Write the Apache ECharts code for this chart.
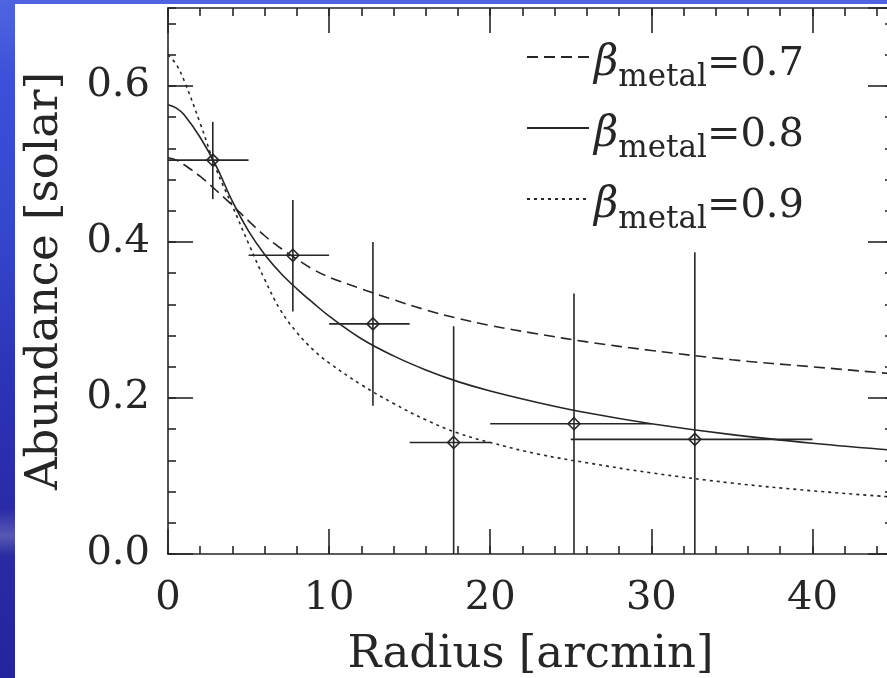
<!DOCTYPE html>
<html>
<head>
<meta charset="utf-8">
<script src="https://cdn.jsdelivr.net/npm/echarts@6.0.0/dist/echarts.min.js"></script>
<style>
html, body { margin: 0; padding: 0; width: 887px; height: 678px; overflow: hidden; }
body {
  position: relative;
  background: linear-gradient(to bottom, #5064e2 0%, #3c50d8 12%, #3446cc 35%, #2c34b8 55%, #2a2aa8 75%, #5858b4 79%, #2a2aa2 82%, #24249c 100%);
}
#panel { position: absolute; left: 15px; top: 4px; width: 900px; height: 700px; background: #ffffff; }
#chart { position: absolute; left: 0; top: 0; width: 900px; height: 678px; }
</style>
</head>
<body>
<div id="panel"></div>
<div id="chart"></div>
<script>
// ---- data ----
const radiusGrid = [0, 0.5, 1, 2, 3, 4, 5, 6, 7, 8, 9, 10, 12, 14, 16, 18, 20, 23, 26, 30, 35, 40, 45];
const beta07 = [0.508, 0.505, 0.499, 0.484, 0.466, 0.447, 0.427, 0.408, 0.392, 0.378, 0.365, 0.355, 0.340, 0.326, 0.313, 0.302, 0.293, 0.282, 0.272, 0.261, 0.249, 0.240, 0.231];
const beta08 = [0.576, 0.572, 0.563, 0.534, 0.497, 0.452, 0.414, 0.384, 0.360, 0.340, 0.322, 0.305, 0.276, 0.254, 0.236, 0.221, 0.209, 0.194, 0.181, 0.167, 0.153, 0.142, 0.133];
const beta09 = [0.640, 0.628, 0.607, 0.552, 0.493, 0.446, 0.398, 0.352, 0.312, 0.284, 0.262, 0.245, 0.217, 0.193, 0.172, 0.155, 0.143, 0.128, 0.117, 0.104, 0.091, 0.081, 0.073];
const betaLabels = ['0.7', '0.8', '0.9'];

const pointRadius    = [2.78, 7.75, 12.72, 17.73, 25.2, 32.7];
const pointAbundance = [0.505, 0.383, 0.295, 0.143, 0.167, 0.147];
const radiusLow      = [0, 5, 10, 15, 20, 25];
const radiusHigh     = [5, 10, 15, 20, 30, 40];
const abundanceLow   = [0.455, 0.311, 0.190, 0, 0, 0];
const abundanceHigh  = [0.554, 0.454, 0.400, 0.292, 0.334, 0.387];

const radiusTickStep = 10, radiusMinorStep = 2, radiusMax = 45;
const abundanceTickStep = 0.2, abundanceMinorStep = 0.04, abundanceMax = 0.7;

// ---- styles ----
const ink = '#262626';
const serif = "'DejaVu Serif', serif";
const lw = 1.6;

function axis(dim, pos, step, length, primary) {
  const isX = dim === 'x';
  return {
    type: 'value',
    position: pos,
    min: 0,
    max: isX ? radiusMax : abundanceMax,
    interval: step,
    splitLine: { show: false },
    axisLine: { show: primary, onZero: false, lineStyle: { color: ink, width: lw } },
    axisTick: { show: true, inside: true, length: length, lineStyle: { color: ink, width: lw } },
    axisLabel: { show: false }
  };
}

const xMain = axis('x', 'bottom', radiusTickStep, 25, true);
xMain.axisLabel = { show: true, margin: 25, showMaxLabel: false, fontFamily: serif, fontSize: 40, color: ink };
xMain.name = 'Radius [arcmin]';
xMain.nameLocation = 'middle';
xMain.nameGap = 79;
xMain.nameTextStyle = { fontFamily: serif, fontSize: 45, color: ink };

const yMain = axis('y', 'left', abundanceTickStep, 25, true);
yMain.axisLabel = { show: true, margin: 18, showMaxLabel: false, fontFamily: serif, fontSize: 40, color: ink,
  formatter: v => v.toFixed(1) };
yMain.name = 'Abundance [solar]';
yMain.nameLocation = 'middle';
yMain.nameGap = 100;
yMain.nameTextStyle = { fontFamily: serif, fontSize: 45, color: ink };

const curves = [beta07, beta08, beta09];
const dashes = [[11, 6], 'solid', [3, 4]];

const chart = echarts.init(document.getElementById('chart'), null, { renderer: 'canvas' });
chart.setOption({
  animation: false,
  backgroundColor: 'transparent',
  grid: { left: 168, top: 8, width: 725, height: 546, containLabel: false, outerBoundsMode: 'none' },
  xAxis: [
    xMain,
    axis('x', 'bottom', radiusMinorStep, 8, false),
    axis('x', 'top', radiusTickStep, 25, true),
    axis('x', 'top', radiusMinorStep, 8, false)
  ],
  yAxis: [
    yMain,
    axis('y', 'left', abundanceMinorStep, 8, false),
    axis('y', 'right', abundanceTickStep, 25, true),
    axis('y', 'right', abundanceMinorStep, 8, false)
  ],
  legend: {
    data: betaLabels,
    orient: 'vertical',
    left: 521,
    top: 25,
    itemWidth: 62,
    itemHeight: 14,
    itemGap: 8,
    selectedMode: false,
    itemStyle: { color: 'transparent', borderColor: 'transparent', borderWidth: 0, opacity: 0 },
    formatter: n => '{b|β}{s|metal}{t|=' + n + '}',
    textStyle: {
      color: ink,
      padding: [30, 0, 0, 0],
      rich: {
        b: { fontFamily: serif, fontStyle: 'italic', fontSize: 42, lineHeight: 42, padding: [0, 0, 8, 0], verticalAlign: 'bottom', color: ink },
        s: { fontFamily: serif, fontSize: 31, lineHeight: 31, verticalAlign: 'bottom', color: ink },
        t: { fontFamily: serif, fontSize: 40, lineHeight: 40, padding: [15, 0, 8, 0], verticalAlign: 'bottom', color: ink }
      }
    }
  },
  series: curves.map((vals, k) => ({
    type: 'line',
    name: betaLabels[k],
    xAxisIndex: 0,
    yAxisIndex: 0,
    data: radiusGrid.map((r, i) => [r, vals[i]]),
    smooth: 0.4,
    symbol: 'none',
    lineStyle: { color: ink, width: lw, type: dashes[k] },
    itemStyle: { color: ink },
    z: 3
  })).concat([{
    type: 'custom',
    xAxisIndex: 0,
    yAxisIndex: 0,
    silent: true,
    z: 4,
    data: pointRadius.map((r, i) => [r, pointAbundance[i], radiusLow[i], radiusHigh[i], abundanceLow[i], abundanceHigh[i]]),
    encode: { x: [0, 2, 3], y: [1, 4, 5] },
    renderItem: function (params, api) {
      const x = api.value(0), y = api.value(1);
      const c = api.coord([x, y]);
      const l = api.coord([api.value(2), y]);
      const r = api.coord([api.value(3), y]);
      const lo = api.coord([x, api.value(4)]);
      const hi = api.coord([x, api.value(5)]);
      const s = 6;
      const st = { stroke: ink, lineWidth: lw, fill: null };
      return {
        type: 'group',
        children: [
          { type: 'line', shape: { x1: l[0], y1: c[1], x2: r[0], y2: c[1] }, style: st },
          { type: 'line', shape: { x1: c[0], y1: hi[1], x2: c[0], y2: lo[1] }, style: st },
          { type: 'polygon', shape: { points: [[c[0], c[1] - s], [c[0] + s, c[1]], [c[0], c[1] + s], [c[0] - s, c[1]]] }, style: st }
        ]
      };
    }
  }])
});
</script>
</body>
</html>
